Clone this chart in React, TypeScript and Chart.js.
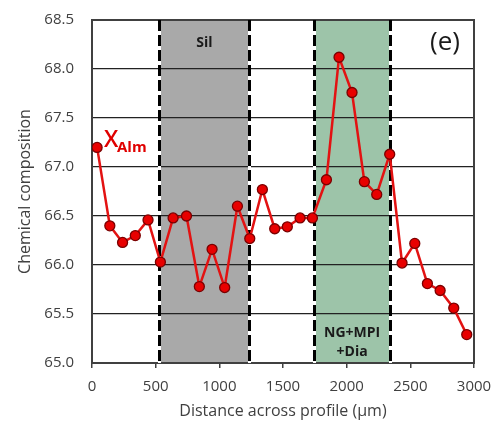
import React, { useEffect, useRef } from "react";
import { Chart, registerables } from "chart.js";

Chart.register(...registerables);

const distances = [40, 140, 240, 340, 440, 537, 637, 742, 843, 943, 1042, 1142, 1239, 1338, 1435, 1534, 1634, 1731, 1841, 1940, 2042, 2139, 2236, 2338, 2435, 2535, 2634, 2734, 2841, 2943];
const xAlm = [67.2, 66.4, 66.23, 66.3, 66.46, 66.03, 66.48, 66.5, 65.78, 66.16, 65.77, 66.6, 66.27, 66.77, 66.37, 66.39, 66.48, 66.48, 66.87, 68.12, 67.76, 66.85, 66.72, 67.13, 66.02, 66.22, 65.81, 65.74, 65.56, 65.29];
const silZone = [530, 1236];
const ngZone = [1744, 2341];
const yTicks = [65.0, 65.5, 66.0, 66.5, 67.0, 67.5, 68.0, 68.5];
const xTicks = [0, 500, 1000, 1500, 2000, 2500, 3000];

const FONT = "'Open Sans', 'DejaVu Sans', sans-serif";

const overlayPlugin = {
  id: "overlay",
  beforeDraw(chart: any) {
    const { ctx, chartArea: a, scales } = chart;
    const x = scales.x;
    ctx.save();
    ctx.fillStyle = "#ffffff";
    ctx.fillRect(a.left, a.top, a.right - a.left, a.bottom - a.top);
    ctx.fillStyle = "#a9a9a9";
    ctx.fillRect(x.getPixelForValue(silZone[0]), a.top, x.getPixelForValue(silZone[1]) - x.getPixelForValue(silZone[0]), a.bottom - a.top);
    ctx.fillStyle = "#9dc4a9";
    ctx.fillRect(x.getPixelForValue(ngZone[0]), a.top, x.getPixelForValue(ngZone[1]) - x.getPixelForValue(ngZone[0]), a.bottom - a.top);
    ctx.restore();
  },
  beforeDatasetsDraw(chart: any) {
    const { ctx, chartArea: a, scales } = chart;
    const x = scales.x;
    ctx.save();
    ctx.strokeStyle = "#404040";
    ctx.lineWidth = 2;
    ctx.strokeRect(a.left, a.top, a.right - a.left, a.bottom - a.top);
    const bounds = [silZone[0], silZone[1], ngZone[0], ngZone[1]];
    for (const b of bounds) {
      const px = Math.round(x.getPixelForValue(b)) + 0.5;
      ctx.setLineDash([]);
      ctx.strokeStyle = "#ffffff";
      ctx.lineWidth = 3;
      ctx.beginPath();
      ctx.moveTo(px, a.top);
      ctx.lineTo(px, a.bottom);
      ctx.stroke();
      ctx.setLineDash([11, 4]);
      ctx.strokeStyle = "#000000";
      ctx.beginPath();
      ctx.moveTo(px, a.top);
      ctx.lineTo(px, a.bottom);
      ctx.stroke();
    }
    ctx.setLineDash([]);
    ctx.fillStyle = "#1a1a1a";
    ctx.textAlign = "center";
    ctx.textBaseline = "middle";
    ctx.font = `bold 14px ${FONT}`;
    const silC = (x.getPixelForValue(silZone[0]) + x.getPixelForValue(silZone[1])) / 2;
    ctx.fillText("Sil", silC, a.top + 23);
    const ngC = (x.getPixelForValue(ngZone[0]) + x.getPixelForValue(ngZone[1])) / 2;
    ctx.fillText("NG+MPI", ngC, a.bottom - 30);
    ctx.fillText("+Dia", ngC, a.bottom - 11);
    ctx.font = `26px ${FONT}`;
    ctx.fillText("(e)", a.right - 29, a.top + 23);
    ctx.fillStyle = "#e00000";
    ctx.textAlign = "left";
    ctx.textBaseline = "alphabetic";
    ctx.font = `600 23px ${FONT}`;
    ctx.fillText("X", 104, 147);
    ctx.font = `bold 15px ${FONT}`;
    ctx.fillText("Alm", 117, 152);
    ctx.restore();
  },
};

export default function App() {
  const ref = useRef<HTMLCanvasElement | null>(null);
  useEffect(() => {
    if (!ref.current) return;
    const chart = new Chart(ref.current, {
      type: "line",
      data: {
        datasets: [
          {
            label: "XAlm",
            data: distances.map((d, i) => ({ x: d, y: xAlm[i] })),
            borderColor: "#e31212",
            borderWidth: 2.5,
            backgroundColor: "#e80000",
            pointBackgroundColor: "#e80000",
            pointBorderColor: "#7a0000",
            pointBorderWidth: 1.3,
            pointRadius: 5,
            tension: 0,
          },
        ],
      },
      options: {
        animation: false,
        responsive: false,
        maintainAspectRatio: false,
        layout: { padding: { top: 20, right: 20, left: 0, bottom: 0 } },
        plugins: { legend: { display: false }, tooltip: { enabled: false } },
        scales: {
          x: {
            type: "linear",
            min: 0,
            max: 3000,
            afterBuildTicks: (s: any) => {
              s.ticks = xTicks.map((v) => ({ value: v }));
            },
            afterFit: (s: any) => {
              s.height = 67;
              s.paddingLeft = 0;
              s.paddingRight = 0;
            },
            grid: { display: true, drawOnChartArea: false, drawTicks: true, tickLength: 5, color: "#404040", lineWidth: 1.5 },
            border: { display: true, color: "#404040", width: 2 },
            ticks: { color: "#404040", font: { family: FONT, size: 15 }, padding: 10, maxRotation: 0, callback: (v: any) => String(v) },
            title: { display: true, text: "Distance across profile (μm)", color: "#404040", font: { family: FONT, size: 16 }, padding: { top: 4, bottom: 9 } },
          },
          y: {
            type: "linear",
            min: 65,
            max: 68.5,
            afterBuildTicks: (s: any) => {
              s.ticks = yTicks.map((v) => ({ value: v }));
            },
            afterFit: (s: any) => {
              s.width = 92;
              s.paddingTop = 0;
              s.paddingBottom = 0;
            },
            grid: { display: true, drawTicks: false, color: "#222222", lineWidth: 1.3 },
            border: { display: true, color: "#404040", width: 2 },
            ticks: { color: "#404040", font: { family: FONT, size: 15 }, padding: 18, callback: (v: any) => Number(v).toFixed(1) },
            title: { display: true, text: "Chemical composition", color: "#404040", font: { family: FONT, size: 16 }, padding: { top: 16, bottom: 4 } },
          },
        },
      },
      plugins: [overlayPlugin],
    });
    return () => chart.destroy();
  }, []);
  return (
    <div style={{ position: "fixed", left: 0, top: 0, width: 494, height: 430, background: "#fff" }}>
      <canvas ref={ref} width={494} height={430} style={{ width: 494, height: 430 }} />
    </div>
  );
}
